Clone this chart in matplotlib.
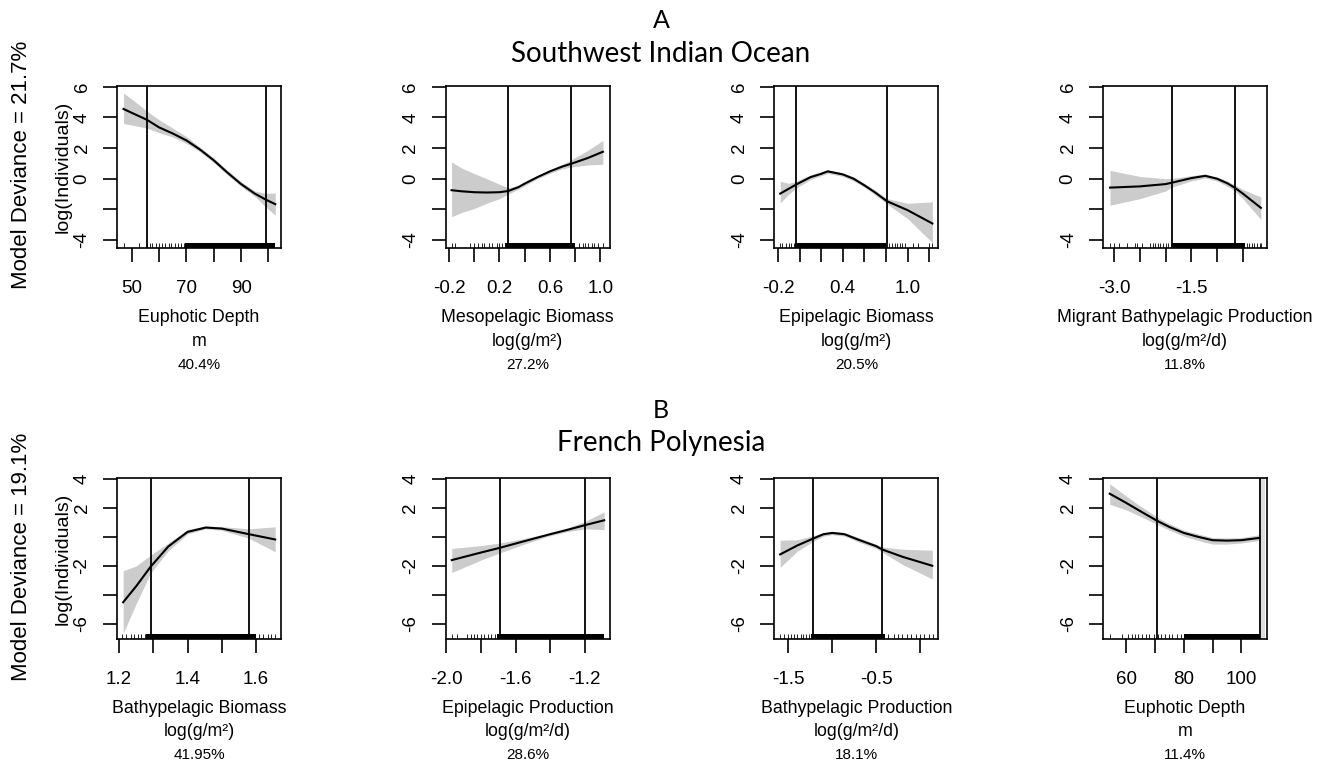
import matplotlib.pyplot as plt

# ---- data ----
# row A: Southwest Indian Ocean
a1_x = [47, 50, 55.6, 60, 65, 70, 75, 80, 85, 90, 95, 99, 102.5]
a1_fit = [4.55, 4.3, 3.84, 3.35, 2.95, 2.5, 1.9, 1.2, 0.4, -0.35, -0.97, -1.36, -1.66]
a1_lo = [3.6, 3.5, 3.3, 3.0, 2.72, 2.3, 1.75, 1.05, 0.25, -0.5, -1.15, -1.84, -2.38]
a1_hi = [5.59, 5.2, 4.4, 3.85, 3.3, 2.75, 2.05, 1.35, 0.55, -0.2, -0.8, -0.95, -0.93]
a1_vlines = [55.6, 99]
a1_rug = [47.0, 52.5, 55.5, 56.5, 57.5, 59, 60, 61, 62, 63.5, 64.5, 66, 67, 68, 69]
a1_dense = [(69.5, 102.5)]

a2_x = [-0.18, -0.1, 0.0, 0.1, 0.2, 0.27, 0.35, 0.4, 0.5, 0.6, 0.7, 0.77, 0.9, 1.02]
a2_fit = [-0.75, -0.82, -0.88, -0.9, -0.88, -0.8, -0.55, -0.32, 0.1, 0.48, 0.8, 0.98, 1.35, 1.76]
a2_lo = [-2.48, -2.2, -1.94, -1.6, -1.3, -1.0, -0.68, -0.45, 0.0, 0.35, 0.65, 0.76, 0.9, 0.94]
a2_hi = [1.09, 0.7, 0.33, 0.0, -0.36, -0.6, -0.42, -0.2, 0.2, 0.6, 0.95, 1.24, 1.85, 2.5]
a2_vlines = [0.27, 0.77]
a2_rug = [-0.18, -0.15, -0.03, 0.0, 0.03, 0.06, 0.08, 0.12, 0.14, 0.18, 0.2, 0.22,
          0.83, 0.86, 0.88, 0.9, 0.93, 0.95, 0.98, 1.02]
a2_dense = [(0.24, 0.80)]

a3_x = [-0.18, -0.1, -0.03, 0.1, 0.2, 0.26, 0.4, 0.5, 0.6, 0.7, 0.81, 1.0, 1.23]
a3_fit = [-0.97, -0.65, -0.37, 0.1, 0.32, 0.48, 0.28, 0.0, -0.43, -0.9, -1.47, -2.05, -2.92]
a3_lo = [-1.58, -1.0, -0.6, -0.05, 0.2, 0.35, 0.15, -0.15, -0.55, -1.05, -1.65, -2.6, -4.17]
a3_hi = [-0.17, -0.3, -0.15, 0.25, 0.45, 0.6, 0.4, 0.12, -0.3, -0.75, -1.3, -1.6, -1.51]
a3_vlines = [-0.03, 0.81]
a3_rug = [-0.18, -0.16, -0.13, -0.1, -0.08, -0.05, 0.83, 0.86, 0.88, 0.9, 0.93, 0.95,
          0.98, 1.05, 1.1, 1.2, 1.23]
a3_dense = [(-0.04, 0.80)]

a4_x = [-3.08, -2.5, -2.0, -1.88, -1.5, -1.23, -1.0, -0.8, -0.66, -0.5, -0.15]
a4_fit = [-0.58, -0.5, -0.35, -0.26, 0.04, 0.19, 0.0, -0.3, -0.58, -0.97, -1.9]
a4_lo = [-1.73, -1.3, -0.8, -0.55, -0.15, 0.05, -0.15, -0.5, -0.8, -1.3, -2.66]
a4_hi = [0.54, 0.15, 0.0, 0.02, 0.2, 0.3, 0.12, -0.15, -0.4, -0.7, -1.19]
a4_vlines = [-1.88, -0.66]
a4_rug = [-3.08, -3.0, -2.9, -2.75, -2.6, -2.55, -2.45, -2.3, -2.25, -2.2, -2.15, -2.1,
          -2.05, -2.0, -1.95, -1.9, -0.42, -0.38, -0.33, -0.28, -0.22, -0.17, -0.14]
a4_dense = [(-1.88, -0.45)]

# row B: French Polynesia
b1_x = [1.212, 1.25, 1.292, 1.344, 1.4, 1.453, 1.5, 1.58, 1.656]
b1_fit = [-4.5, -3.4, -2.06, -0.66, 0.34, 0.64, 0.57, 0.18, -0.18]
b1_lo = [-6.64, -4.6, -2.5, -0.95, 0.2, 0.55, 0.45, -0.1, -1.03]
b1_hi = [-2.33, -2.0, -1.26, -0.42, 0.5, 0.75, 0.7, 0.55, 0.69]
b1_vlines = [1.292, 1.58]
b1_rug = [1.21, 1.22, 1.235, 1.245, 1.255, 1.265, 1.275, 1.61, 1.62, 1.635, 1.645, 1.655]
b1_dense = [(1.28, 1.60)]

b2_x = [-1.969, -1.8, -1.689, -1.55, -1.4, -1.3, -1.2, -1.087]
b2_fit = [-1.6, -1.08, -0.75, -0.3, 0.18, 0.48, 0.8, 1.14]
b2_lo = [-2.45, -1.6, -1.1, -0.5, 0.08, 0.36, 0.55, 0.5]
b2_hi = [-0.8, -0.6, -0.42, -0.12, 0.28, 0.62, 1.05, 1.72]
b2_vlines = [-1.689, -1.2]
b2_rug = [-1.965, -1.94, -1.88, -1.86, -1.84, -1.82, -1.8, -1.78, -1.76, -1.74, -1.72]
b2_dense = [(-1.71, -1.09)]

b3_x = [-1.594, -1.4, -1.214, -1.1, -1.0, -0.86, -0.7, -0.5, -0.43, -0.2, 0.14]
b3_fit = [-1.21, -0.6, -0.11, 0.18, 0.27, 0.18, -0.2, -0.64, -0.87, -1.37, -1.99]
b3_lo = [-2.1, -1.0, -0.3, 0.05, 0.15, 0.05, -0.35, -0.8, -1.05, -1.9, -2.9]
b3_hi = [-0.23, -0.2, 0.08, 0.3, 0.38, 0.3, -0.05, -0.5, -0.7, -0.85, -0.92]
b3_vlines = [-1.214, -0.43]
b3_rug = [-1.6, -1.55, -1.5, -1.47, -1.43, -1.4, -1.36, -1.33, -1.3, -1.27, -0.36, -0.3,
          -0.25, -0.2, -0.15, -0.1, -0.05, 0.0, 0.05, 0.1, 0.15]
b3_dense = [(-1.24, -0.40)]

b4_x = [54.2, 60, 65, 70.75, 75, 80, 85, 90, 95, 100, 106.4]
b4_fit = [2.97, 2.33, 1.75, 1.1, 0.68, 0.27, 0.0, -0.23, -0.26, -0.23, -0.07]
b4_lo = [2.24, 1.85, 1.4, 0.85, 0.45, 0.05, -0.25, -0.5, -0.5, -0.42, -0.25]
b4_hi = [3.66, 2.8, 2.1, 1.35, 0.9, 0.45, 0.2, -0.05, -0.08, -0.05, 0.15]
b4_vlines = [106.6, 70.75]
b4_rug = [54.3, 58.6, 60.5, 62, 63, 64, 65.5, 67, 68, 69.5, 71, 72, 73.5, 75, 76, 77.5, 79]
b4_dense = [(80, 106.6)]
b4_strip = (107.0, 108.3)   # pale strip next to the right edge

# axis ticks / labels
a_yticks = [-4, -2, 0, 2, 4, 6]
a_ylabels = ['-4', '', '0', '2', '4', '6']
b_yticks = [-6, -4, -2, 0, 2, 4]
b_ylabels = ['-6', '', '-2', '', '2', '4']

xticks = [
    [50, 60, 70, 80, 90, 100],
    [-0.2, 0.0, 0.2, 0.4, 0.6, 0.8, 1.0],
    [-0.2, 0.0, 0.2, 0.4, 0.6, 0.8, 1.0, 1.2],
    [-3.0, -2.5, -2.0, -1.5, -1.0, -0.5],
    [1.2, 1.3, 1.4, 1.5, 1.6],
    [-2.0, -1.8, -1.6, -1.4, -1.2],
    [-1.5, -1.0, -0.5, 0.0],
    [60, 70, 80, 90, 100],
]
xticklabels = [
    ['50', '', '70', '', '90', ''],
    ['-0.2', '', '0.2', '', '0.6', '', '1.0'],
    ['-0.2', '', '', '0.4', '', '', '1.0', ''],
    ['-3.0', '', '', '-1.5', '', ''],
    ['1.2', '', '1.4', '', '1.6'],
    ['-2.0', '', '-1.6', '', '-1.2'],
    ['-1.5', '', '-0.5', ''],
    ['60', '', '80', '', '100'],
]
xlims = [(44.6, 104.6), (-0.2265, 1.074), (-0.234, 1.286), (-3.214, -0.029),
         (1.194, 1.673), (-2.004, -1.055), (-1.659, 0.21), (51.9, 109.0)]

var_names = ['Euphotic Depth', 'Mesopelagic Biomass', 'Epipelagic Biomass',
             'Migrant Bathypelagic Production',
             'Bathypelagic Biomass', 'Epipelagic Production', 'Bathypelagic Production',
             'Euphotic Depth']
var_units = ['m', 'log(g/m²)', 'log(g/m²)', 'log(g/m²/d)',
             'log(g/m²)', 'log(g/m²/d)', 'log(g/m²/d)', 'm']
var_contrib = ['40.4%', '27.2%', '20.5%', '11.8%', '41.95%', '28.6%', '18.1%', '11.4%']

panels = [
    (a1_x, a1_fit, a1_lo, a1_hi, a1_vlines, a1_rug, a1_dense),
    (a2_x, a2_fit, a2_lo, a2_hi, a2_vlines, a2_rug, a2_dense),
    (a3_x, a3_fit, a3_lo, a3_hi, a3_vlines, a3_rug, a3_dense),
    (a4_x, a4_fit, a4_lo, a4_hi, a4_vlines, a4_rug, a4_dense),
    (b1_x, b1_fit, b1_lo, b1_hi, b1_vlines, b1_rug, b1_dense),
    (b2_x, b2_fit, b2_lo, b2_hi, b2_vlines, b2_rug, b2_dense),
    (b3_x, b3_fit, b3_lo, b3_hi, b3_vlines, b3_rug, b3_dense),
    (b4_x, b4_fit, b4_lo, b4_hi, b4_vlines, b4_rug, b4_dense),
]

W, H = 1326, 764
fig = plt.figure(figsize=(W / 100, H / 100), dpi=100)
plt.rcParams['font.family'] = 'Liberation Sans'

lefts = [117, 445.7, 774.4, 1103.1]
rows = [(86, 248), (478, 639)]
pw = 164

for i, (x, fit, lo, hi, vl, rug, dense) in enumerate(panels):
    r, c = divmod(i, 4)
    top, bot = rows[r]
    ax = fig.add_axes([lefts[c] / W, 1 - bot / H, pw / W, (bot - top) / H])
    ax.fill_between(x, lo, hi, color='#cccccc', lw=0, zorder=1)
    ax.plot(x, fit, color='black', lw=1.5, zorder=3)
    for v in vl:
        ax.axvline(v, color='black', lw=1.3, zorder=4)
    ax.vlines(rug, 0, 0.03, transform=ax.get_xaxis_transform(), color='black', lw=0.6)
    for a, b in dense:
        ax.axvspan(a, b, ymin=0, ymax=0.028, color='black', lw=0)
    if i == 7:
        ax.axvspan(*b4_strip, color='#dcdcdc', lw=0, zorder=0)
    ax.set_xlim(*xlims[i])
    if r == 0:
        ax.set_ylim(-4.52, 6.05)
        ax.set_yticks(a_yticks)
        ax.set_yticklabels(a_ylabels)
    else:
        ax.set_ylim(-7.03, 4.05)
        ax.set_yticks(b_yticks)
        ax.set_yticklabels(b_ylabels)
    ax.set_xticks(xticks[i])
    ax.set_xticklabels(xticklabels[i])
    for s in ax.spines.values():
        s.set_linewidth(1.2)
    ax.tick_params(direction='out', length=10, width=1.2, labelsize=13.5)
    ax.tick_params(axis='x', pad=13)
    ax.tick_params(axis='y', labelrotation=90, pad=9)
    for lab in ax.get_yticklabels():
        lab.set_va('center')
    ax.text(0.5, -0.43, var_names[i], transform=ax.transAxes, ha='center', va='center',
            fontsize=12.8)
    ax.text(0.5, -0.575, var_units[i], transform=ax.transAxes, ha='center', va='center',
            fontsize=12.8)
    ax.text(0.5, -0.72, var_contrib[i], transform=ax.transAxes, ha='center', va='center',
            fontsize=11)
    if c == 0:
        ax.text(-0.33, 0.5, 'log(Individuals)', transform=ax.transAxes, rotation=90,
                ha='center', va='center', fontsize=14)

fig.text(22 / W, 1 - 165 / H, 'Model Deviance = 21.7%', rotation=90, ha='center',
         va='center', fontsize=16)
fig.text(22 / W, 1 - 557 / H, 'Model Deviance = 19.1%', rotation=90, ha='center',
         va='center', fontsize=16)

fig.text(661 / W, 1 - 20 / H, 'A', ha='center', va='center', fontsize=18, family='Lato')
fig.text(661 / W, 1 - 54 / H, 'Southwest Indian Ocean', ha='center', va='center',
         fontsize=20, family='Lato')
fig.text(661 / W, 1 - 410 / H, 'B', ha='center', va='center', fontsize=18, family='Lato')
fig.text(661 / W, 1 - 443 / H, 'French Polynesia', ha='center', va='center',
         fontsize=20, family='Lato')

fig.savefig('out.png', dpi=100)
